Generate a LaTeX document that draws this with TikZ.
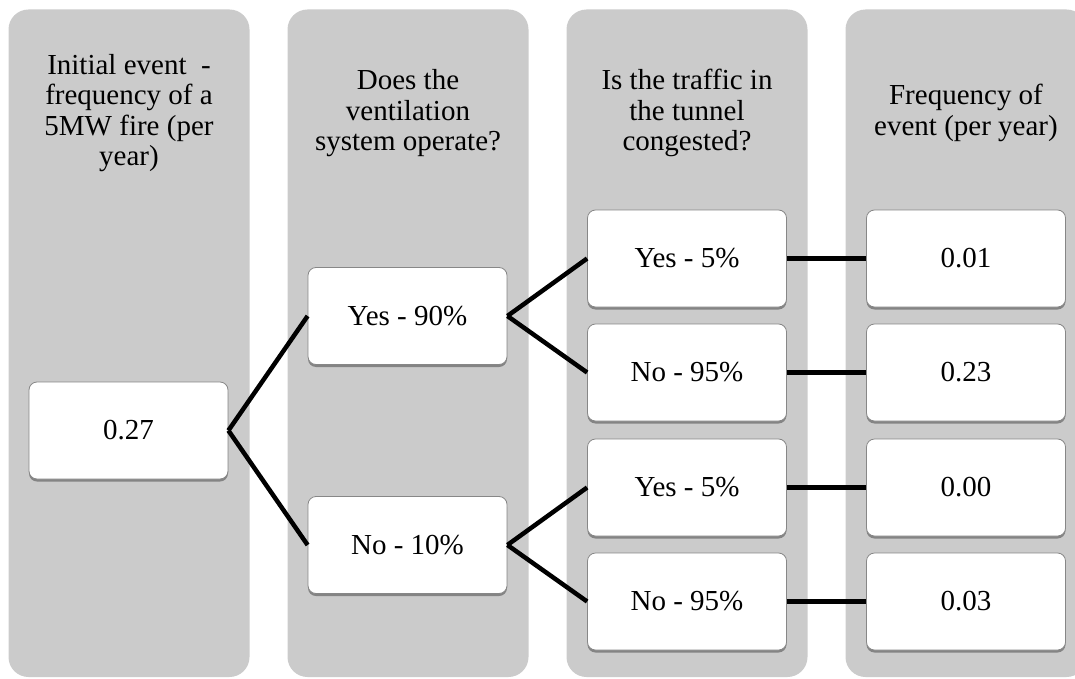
\documentclass[tikz,border=0pt]{standalone}
\usepackage{fontspec}
\setmainfont{Liberation Serif}
\usetikzlibrary{shadows}
\definecolor{colgray}{RGB}{203,203,203}
\definecolor{boxedge}{RGB}{135,135,135}
\begin{document}
\begin{tikzpicture}[x=1pt,y=-1pt,
  column/.style={fill=colgray, draw=none, rounded corners=20pt, minimum width=241pt, minimum height=667.5pt, inner sep=0pt},
  head/.style={align=center, inner sep=0pt, font=\fontsize{29}{30.4}\selectfont},
  bx/.style={draw=boxedge, line width=0.8pt, fill=white, rounded corners=8pt,
    minimum width=199pt, minimum height=97pt, inner sep=0pt,
    font=\fontsize{29}{30}\selectfont,
    drop shadow={shadow xshift=0pt, shadow yshift=-2.5pt, opacity=0.35, fill=black}},
  conn/.style={line width=4.5pt, black}
]
\useasboundingbox (0,0) rectangle (1075,679);
% columns
\node[column] (c1) at (129,343.25) {};
\node[column] (c2) at (408,343.25) {};
\node[column] (c3) at (687,343.25) {};
\node[column] (c4) at (966,343.25) {};
% headers
\node[head] (h1) at (129,114) {\strut Initial event~ -\\\strut frequency of a\\\strut 5MW fire (per\\\strut year)};
\node[head] (h2) at (408,114) {\strut Does the\\\strut ventilation\\\strut system operate?};
\node[head] (h3) at (687,114) {\strut Is the traffic in\\\strut the tunnel\\\strut congested?};
\node[head] (h4) at (966,114) {\strut Frequency of\\\strut event (per year)};
% boxes
\node[bx] (b0) at (128.5,430.5) {0.27};
\node[bx] (y90) at (407.5,316) {Yes - 90\%};
\node[bx] (n10) at (407.5,545) {No - 10\%};
\node[bx] (y5a) at (687,258.5) {Yes - 5\%};
\node[bx] (n95a) at (687,372.5) {No - 95\%};
\node[bx] (y5b) at (687,487.5) {Yes - 5\%};
\node[bx] (n95b) at (687,601.5) {No - 95\%};
\node[bx] (f1) at (966,258.5) {0.01};
\node[bx] (f2) at (966,372.5) {0.23};
\node[bx] (f3) at (966,487.5) {0.00};
\node[bx] (f4) at (966,601.5) {0.03};
% connectors
\draw[conn] (b0.east) -- (y90.west);
\draw[conn] (b0.east) -- (n10.west);
\draw[conn] (y90.east) -- (y5a.west);
\draw[conn] (y90.east) -- (n95a.west);
\draw[conn] (n10.east) -- (y5b.west);
\draw[conn] (n10.east) -- (n95b.west);
\draw[conn] (y5a.east) -- (f1.west);
\draw[conn] (n95a.east) -- (f2.west);
\draw[conn] (y5b.east) -- (f3.west);
\draw[conn] (n95b.east) -- (f4.west);
\end{tikzpicture}
\end{document}
